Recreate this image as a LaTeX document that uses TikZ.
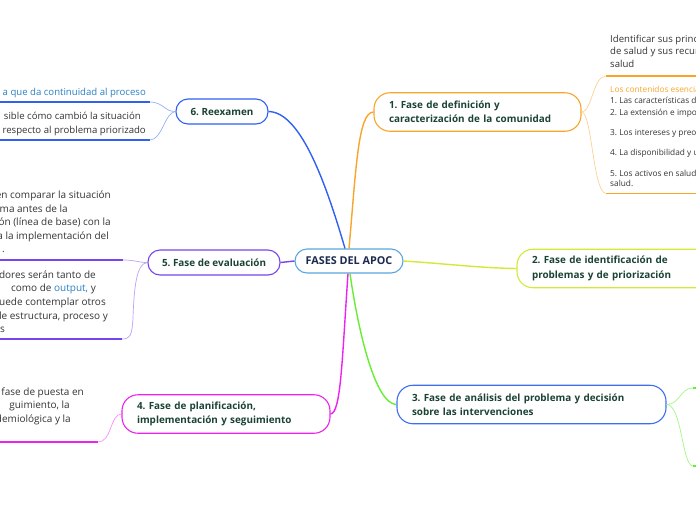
\documentclass[tikz,border=0pt]{standalone}
\usepackage{fontspec}
\setmainfont{Open Sans}
\usetikzlibrary{calc}
\frenchspacing
\definecolor{nodetext}{HTML}{1B4332}
\definecolor{centertext}{HTML}{1B2A4F}
\definecolor{leaftext}{HTML}{333333}
\definecolor{linkblue}{HTML}{2A80C4}
\definecolor{ccenter}{HTML}{5AA7DC}
\definecolor{cone}{HTML}{F8A52A}
\definecolor{ctwo}{HTML}{D2EA36}
\definecolor{cthree}{HTML}{3F6FF0}
\definecolor{cgreen}{HTML}{66EE33}
\definecolor{cfour}{HTML}{EE22EE}
\definecolor{cfive}{HTML}{7744EE}
\definecolor{csix}{HTML}{2F60F2}
\tikzset{
  mainbox/.style={draw, fill=white, line width=1.1pt, inner sep=0pt,
    font=\fontsize{9.9}{14.5}\selectfont\bfseries, text=nodetext},
  smallbox/.style={mainbox, rounded corners=12pt, minimum height=25pt, align=center},
  bigbox/.style={mainbox, rounded corners=16pt, minimum height=38.5pt, inner xsep=15pt, align=left},
  maincon/.style={line width=1.4pt},
  leafcon/.style={line width=0.7pt},
  underl/.style={line width=1.6pt},
  leaf/.style={font=\fontsize{10}{13.5}\selectfont, text=leaftext, inner sep=0pt},
  leafb/.style={font=\fontsize{9.6}{13.5}\selectfont, text=leaftext, inner sep=0pt},
  leafs/.style={font=\fontsize{8.3}{11}\selectfont, text=leaftext, inner sep=0pt},
}
\begin{document}
\begin{tikzpicture}[x=1pt,y=-1pt]
\useasboundingbox (0,0) rectangle (696,520);
\clip (0,0) rectangle (696,520);

% main nodes
\node[mainbox, draw=ccenter, rounded corners=12pt, minimum width=108pt, minimum height=24pt, text=centertext, font=\fontsize{10.8}{13}\selectfont\bfseries] (c) at (349,261) {FASES DEL APOC};
\node[bigbox, draw=cone, text width=177pt] (n1) at (477.5,112) {1. Fase de definición y\\caracterización de la comunidad};
\node[bigbox, draw=ctwo, text width=180pt] (n2) at (622,268.5) {2. Fase de identificación de\\problemas y de priorización};
\node[bigbox, draw=cthree, text width=239pt] (n3) at (531.5,404.5) {3. Fase de análisis del problema y decisión\\sobre las intervenciones};
\node[bigbox, draw=cfour, text width=178pt] (n4) at (226,414) {4. Fase de planificación,\\implementación y seguimiento};
\node[smallbox, draw=cfive, minimum width=132pt] (n5) at (214,262.5) {5. Fase de evaluación};
\node[smallbox, draw=csix, minimum width=92pt] (n6) at (222,111.5) {6. Reexamen};

% main connectors
\draw[maincon, csix] ($(c.north)+(-4,0)$) .. controls (325,180) and (300,112) .. (n6.east);
\draw[maincon, cone] ($(c.north)+(0,0)$) .. controls (356,170) and (358,112) .. (n1.west);
\draw[maincon, cfive] (c.west) -- (n5.east);
\draw[maincon, ctwo] (c.east) .. controls (450,264) and (480,268) .. (n2.west);
\draw[maincon, cfour] ($(c.south)+(-1,0)$) .. controls (342,360) and (341,413) .. (n4.east);
\draw[maincon, cgreen] ($(c.south)+(1,0)$) .. controls (358,330) and (375,404) .. (n3.west);

% ---- leaves of 6
\node[leafb, text=linkblue, anchor=mid east] (l6a) at (146,92.5) {a que da continuidad al proceso};
\node[leafb, anchor=mid east] (l6b1) at (141,117) {sible cómo cambió la situación};
\node[leafb, anchor=mid east] (l6b2) at (146,131) {respecto al problema priorizado};
\coordinate (u6a) at (150,102);
\coordinate (u6b) at (150,140);
\draw[underl, csix] (0,102) -- (u6a);
\draw[leafcon, csix!50] (u6a) .. controls (163,102) and (165,112) .. (n6.west);
\draw[underl, csix] (0,140) -- (u6b);
\draw[leafcon, csix!50] (n6.west) .. controls (165,112) and (162,140) .. (u6b);

% ---- leaves of 5
\node[leaf, anchor=mid east] (l5a1) at (111,196) {en comparar la situación};
\node[leaf, anchor=mid east] (l5a2) at (68,209.5) {ma antes de la};
\node[leaf, anchor=mid east] (l5a3) at (111,223) {ón (línea de base) con la};
\node[leaf, anchor=mid east] (l5a4) at (109,237) {a la implementación del};
\node[leaf, anchor=mid east] (l5a5) at (5,250) {.};
\coordinate (u5a) at (123,260);
\draw[underl, cfive] (0,260) -- (u5a);
\draw[leafcon, cfive!50] (u5a) .. controls (135,260) and (138,262.5) .. (n5.west);
\node[leaf, anchor=mid east] (l5b1) at (96,275.5) {dores serán tanto de};
\node[leaf, anchor=mid east] (l5b2) at (96,289) {como de \textcolor{linkblue}{output,} y};
\node[leaf, anchor=mid east] (l5b3) at (106,302.5) {uede contemplar otros};
\node[leaf, anchor=mid east] (l5b4) at (108,316.5) {de estructura, proceso y};
\node[leaf, anchor=mid east] (l5b5) at (5,330) {s};
\coordinate (u5b) at (122,339);
\draw[underl, cfive] (0,339) -- (u5b);
\draw[leafcon, cfive!50] (n5.west) .. controls (136,263) and (134,290) .. (133,318) .. controls (132,336) and (130,339) .. (u5b);

% ---- leaves of 4
\node[leaf, anchor=mid east] (l4a1) at (84,393) {fase de puesta en};
\node[leaf, anchor=mid east] (l4a2) at (70,405.5) {guimiento, la};
\node[leaf, anchor=mid east] (l4a3) at (71,419.5) {demiológica y la};
\coordinate (u4a) at (98,442);
\draw[underl, cfour] (0,442) -- (u4a);
\draw[leafcon, cfour!50] (n4.west) .. controls (110,414) and (112,442) .. (u4a);

% ---- leaves of 1
\node[leaf, font=\fontsize{9.6}{12.6}\selectfont, anchor=north west, align=left] (l1a) at (610,34.5) {Identificar sus principales problemas\\de salud y sus recursos y activos en\\salud};
\coordinate (u1a) at (606,76);
\draw[underl, cone] (u1a) -- (700,76);
\draw[leafcon, cone!50] (n1.east) .. controls (592,112) and (593,76) .. (u1a);
\node[leafs, anchor=mid west, text=cone] (l1b0) at (610,90.3) {Los contenidos esenciales};
\node[leafs, anchor=mid west] (l1b1) at (610,101.3) {1. Las características de la comunidad};
\node[leafs, anchor=mid west] (l1b2) at (610,112.5) {2. La extensión e importancia};
\node[leafs, anchor=mid west] (l1b3) at (610,132.5) {3. Los intereses y preocupaciones};
\node[leafs, anchor=mid west] (l1b4) at (610,152.5) {4. La disponibilidad y uso};
\node[leafs, anchor=mid west] (l1b5) at (610,173.5) {5. Los activos en salud};
\node[leafs, anchor=mid west] (l1b6) at (610,184.3) {salud.};
\coordinate (u1b) at (606,193.3);
\draw[underl, cone] (u1b) -- (700,193.3);
\draw[leafcon, cone!50] (n1.east) .. controls (592,112) and (593,193.3) .. (u1b);

% ---- leaves of 3
\coordinate (u3a) at (693,388);
\coordinate (u3b) at (693,466);
\draw[underl, cgreen] (u3a) -- (700,388);
\draw[underl, cgreen] (u3b) -- (700,466);
\draw[leafcon, cgreen!60] (n3.east) .. controls (680,404.5) and (680,388) .. (u3a);
\draw[leafcon, cgreen!60] (n3.east) .. controls (682,404.5) and (682,466) .. (u3b);
\end{tikzpicture}
\end{document}
